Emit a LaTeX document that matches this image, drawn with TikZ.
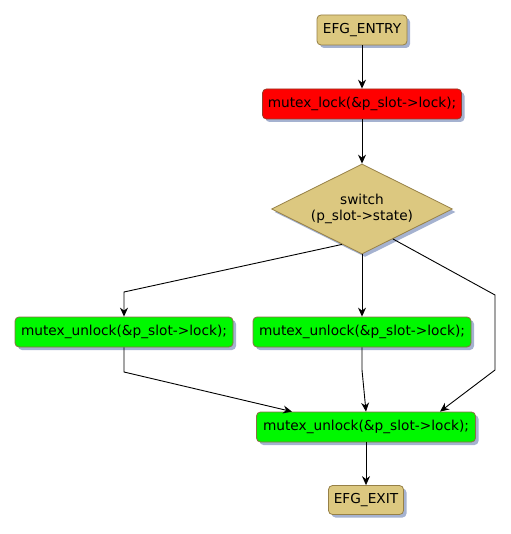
\documentclass[tikz,border=0pt]{standalone}
\usepackage{fontspec}
\setmainfont{DejaVu Sans}
\usetikzlibrary{shapes.geometric,shadows,arrows.meta,calc}
\definecolor{tan}{RGB}{220,200,128}
\definecolor{tanline}{RGB}{150,128,70}
\definecolor{lockred}{RGB}{255,0,0}
\definecolor{redline}{RGB}{150,60,40}
\definecolor{unlockgreen}{RGB}{0,248,0}
\definecolor{greenline}{RGB}{140,110,70}
\definecolor{shade}{RGB}{165,178,208}

\begin{document}
\begin{tikzpicture}[x=1pt,y=-1pt,
  font=\fontsize{13.7pt}{16pt}\selectfont,
  box/.style={rectangle, rounded corners=4pt, inner sep=0pt, minimum height=30pt, line width=0.8pt,
    drop shadow={shadow xshift=3pt, shadow yshift=-3pt, fill=shade, opacity=1}},
  terminal/.style={box, fill=tan, draw=tanline},
  lockbox/.style={box, fill=lockred, draw=redline},
  unlockbox/.style={box, fill=unlockgreen, draw=greenline, minimum width=218pt},
  decision/.style={diamond, aspect=2, inner sep=0pt, minimum width=181pt, minimum height=90pt,
    fill=tan, draw=tanline, align=center, line width=0.8pt,
    drop shadow={shadow xshift=3pt, shadow yshift=-3pt, fill=shade, opacity=1}},
  flow/.style={draw, line width=0.9pt, -{Stealth[length=9pt,width=8pt,inset=3pt]}}]
  \useasboundingbox (0,0) rectangle (510,534);
  %% Nodes
  \node[terminal, minimum width=90pt] (entry) at (362,30) {EFG\_ENTRY};
  \node[lockbox, minimum width=199pt] (lock) at (362,104) {mutex\_lock(\&p\_slot->lock);};
  \node[decision] (sw) at (362,209) {switch\\(p\_slot->state)};
  \node[unlockbox] (unleft) at (124,332) {mutex\_unlock(\&p\_slot->lock);};
  \node[unlockbox] (unmid) at (362,332) {mutex\_unlock(\&p\_slot->lock);};
  \node[unlockbox, minimum width=219pt] (unall) at (366,427) {mutex\_unlock(\&p\_slot->lock);};
  \node[terminal, minimum width=75pt, minimum height=29pt] (exit) at (366,500) {EFG\_EXIT};
  %% Bend points
  \coordinate (swl) at ($(sw.west)!0.78!(sw.south)$);
  \coordinate (swr) at ($(sw.south)!0.34!(sw.east)$);
  \coordinate (kl) at (124,292);
  \coordinate (kr1) at (495,295);
  \coordinate (kr2) at (495,370);
  \coordinate (kbl) at (124,372);
  \coordinate (kbm) at (362,370);
  \coordinate (inl) at ([xshift=-74pt]unall.north);
  \coordinate (inr) at ([xshift=74pt]unall.north);
  %% Connectors
  \draw[flow] (entry) -- (lock);
  \draw[flow] (lock) -- (sw);
  \draw[flow] (swl) -- (kl) -- (unleft);
  \draw[flow] (sw.south) -- (unmid);
  \draw[flow] (swr) -- (kr1) -- (kr2) -- (inr);
  \draw[flow] (unleft.south) -- (kbl) -- (inl);
  \draw[flow] (unmid.south) -- (kbm) -- (unall.north);
  \draw[flow] (unall) -- (exit);
\end{tikzpicture}
\end{document}
